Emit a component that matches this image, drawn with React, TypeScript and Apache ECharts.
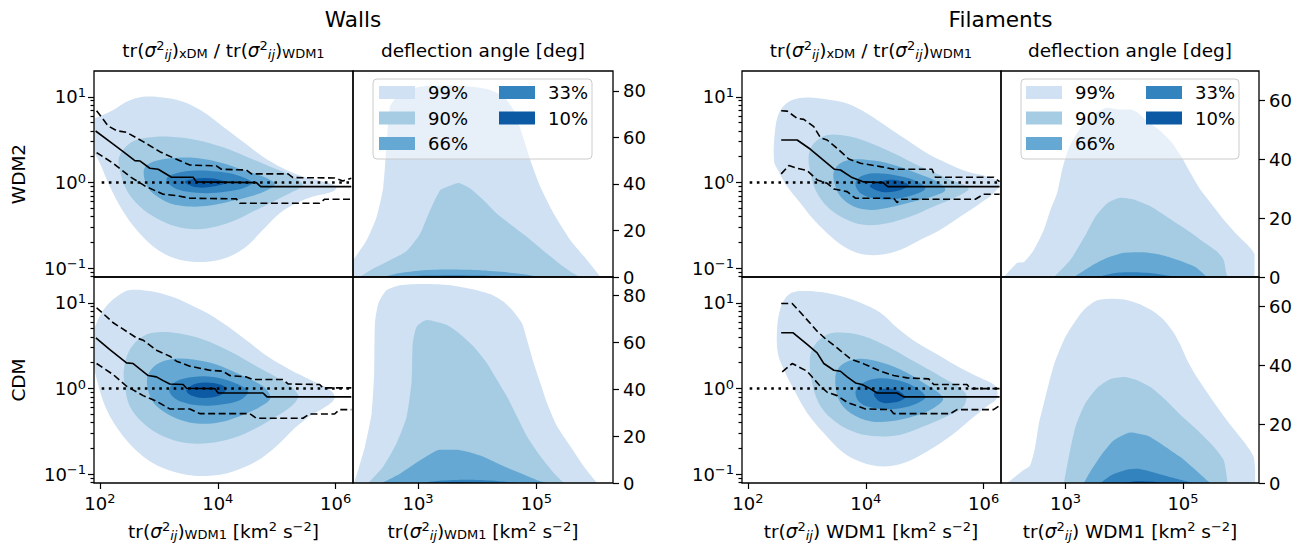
import React, { useEffect, useRef } from 'react';
import * as echarts from 'echarts';

type Pt = [number, number];

const FONT = 'DejaVu Sans';

// contour levels (enclosed fraction) and their colours
const levelNames = ['99%', '90%', '66%', '33%', '10%'];
const levelColors = ['#cfe1f2', '#a5cce3', '#64a8d3', '#3383bf', '#0c5aa3'];

// axis ranges (log10 units for tr(sigma^2) and for the ratio)
const xLogRange: Pt = [1.9, 6.295];
const ratioLogRange: Pt = [-1.1, 1.3];
const angleMaxWalls: Pt = [88.5, 88];
const angleMaxFil: Pt = [70, 70];

const ratioXTicks = [2, 4, 6];
const angleXTicks = [3, 5];
const ratioYTicks = [-1, 0, 1];
const angleTicksWalls = [0, 20, 40, 60, 80];
const angleTicksFil = [0, 20, 40, 60];

// ---------- Walls, WDM2 / WDM1 ratio (log10 x, log10 y) ----------
const wW2c99: Pt[] = [[1.85,0.76],[1.904,0.748],[2.226,0.845],[2.452,0.942],[2.734,1.0],[3.073,0.992],[3.412,0.942],[3.751,0.826],[4.09,0.651],[4.429,0.477],[4.768,0.302],[5.107,0.167],[5.446,0.07],[5.785,0.012],[6.011,-0.047],[5.955,-0.105],[5.616,-0.163],[5.333,-0.24],[5.051,-0.357],[4.768,-0.55],[4.486,-0.744],[4.203,-0.86],[3.864,-0.919],[3.525,-0.919],[3.186,-0.86],[2.904,-0.744],[2.621,-0.55],[2.395,-0.337],[2.169,-0.047],[2.0,0.225],[1.904,0.341],[1.85,0.36]];
const wW2c90: Pt[] = [[2.328,0.302],[2.508,0.457],[2.734,0.516],[3.186,0.535],[3.638,0.496],[4.09,0.411],[4.486,0.302],[4.881,0.186],[5.22,0.089],[5.446,-0.027],[5.277,-0.105],[4.994,-0.202],[4.655,-0.318],[4.316,-0.434],[3.977,-0.512],[3.638,-0.543],[3.299,-0.512],[2.96,-0.415],[2.678,-0.279],[2.452,-0.085],[2.339,0.147]];
const wW2c66: Pt[] = [[2.746,0.147],[2.847,0.225],[3.073,0.271],[3.412,0.291],[3.751,0.275],[4.09,0.225],[4.429,0.147],[4.768,0.07],[4.966,-0.016],[4.825,-0.093],[4.542,-0.163],[4.203,-0.221],[3.864,-0.267],[3.525,-0.279],[3.186,-0.24],[2.932,-0.143],[2.791,-0.027]];
const wW2c33: Pt[] = [[3.13,0.043],[3.299,0.109],[3.638,0.14],[3.977,0.128],[4.316,0.089],[4.588,0],[4.429,-0.066],[4.147,-0.105],[3.808,-0.124],[3.469,-0.105],[3.243,-0.054]];
const wW2c10: Pt[] = [[3.441,0.008],[3.638,0.047],[3.921,0.047],[4.147,0],[3.921,-0.047],[3.638,-0.054]];
const wW2median: Pt[] = [[1.927,0.601],[2.169,0.477],[2.395,0.36],[2.593,0.256],[2.678,0.252],[2.847,0.167],[2.989,0.155],[3.102,0.109],[3.215,0.062],[3.582,0.062],[3.638,0.008],[4.655,0],[4.729,-0.047],[6.266,-0.047]];
const wW2upper: Pt[] = [[1.944,0.837],[2.141,0.659],[2.282,0.605],[2.452,0.585],[2.734,0.477],[3.017,0.36],[3.299,0.271],[3.525,0.205],[3.977,0.194],[4.062,0.155],[4.486,0.147],[4.571,0.101],[5.192,0.101],[5.277,0.058],[5.983,0.054],[6.124,0.019],[6.266,0.05]];
const wW2lower: Pt[] = [[1.944,0.349],[2.226,0.225],[2.508,0.07],[2.763,-0.039],[3.073,-0.136],[3.299,-0.151],[3.525,-0.182],[4.316,-0.19],[4.373,-0.24],[5.729,-0.24],[5.814,-0.194],[6.266,-0.194]];

// ---------- Walls, CDM / WDM1 ratio ----------
const wCc99: Pt[] = [[1.88,0.62],[2.0,0.85],[2.15,0.99],[2.3,1.08],[2.508,1.148],[2.847,1.136],[3.186,1.078],[3.525,0.981],[3.864,0.864],[4.203,0.708],[4.542,0.533],[4.881,0.358],[5.22,0.222],[5.559,0.105],[5.898,-0.012],[5.983,-0.109],[5.842,-0.206],[5.559,-0.323],[5.277,-0.479],[4.994,-0.673],[4.655,-0.848],[4.26,-0.965],[3.864,-1.016],[3.469,-1.004],[3.073,-0.926],[2.734,-0.79],[2.395,-0.556],[2.113,-0.245],[1.95,0.1],[1.88,0.35]];
const wCc90: Pt[] = [[2.407,0.222],[2.508,0.455],[2.734,0.611],[3.017,0.658],[3.356,0.642],[3.751,0.572],[4.203,0.436],[4.655,0.261],[5.107,0.086],[5.362,-0.07],[5.277,-0.187],[4.994,-0.323],[4.655,-0.459],[4.26,-0.576],[3.864,-0.634],[3.469,-0.634],[3.073,-0.556],[2.734,-0.401],[2.508,-0.206],[2.424,0.027]];
const wCc66: Pt[] = [[2.802,0.125],[2.96,0.28],[3.243,0.346],[3.582,0.339],[3.977,0.28],[4.373,0.163],[4.768,0.027],[4.893,-0.109],[4.712,-0.214],[4.373,-0.323],[4.034,-0.393],[3.695,-0.409],[3.356,-0.362],[3.073,-0.265],[2.876,-0.128]];
const wCc33: Pt[] = [[3.175,-0.012],[3.299,0.086],[3.582,0.136],[3.921,0.136],[4.26,0.074],[4.514,-0.031],[4.373,-0.136],[4.034,-0.187],[3.695,-0.198],[3.412,-0.16],[3.243,-0.097]];
const wCc10: Pt[] = [[3.469,-0.019],[3.638,0.058],[3.921,0.066],[4.147,0.008],[4.034,-0.082],[3.751,-0.109],[3.554,-0.082]];
const wCmedian: Pt[] = [[1.932,0.591],[2.169,0.455],[2.452,0.3],[2.565,0.292],[2.819,0.152],[2.96,0.136],[3.073,0.093],[3.186,0.054],[3.412,0.047],[3.469,0.004],[3.949,0],[4.006,-0.051],[4.768,-0.051],[4.836,-0.097],[6.266,-0.097]];
const wCupper: Pt[] = [[1.944,0.942],[2.226,0.767],[2.621,0.591],[2.734,0.564],[2.96,0.447],[3.186,0.377],[3.299,0.319],[3.525,0.261],[3.864,0.214],[4.09,0.202],[4.203,0.152],[4.486,0.136],[4.599,0.105],[5.107,0.105],[5.192,0.054],[5.729,0.047],[5.785,0.008],[6.266,0.008]];
const wClower: Pt[] = [[1.944,0.292],[2.226,0.163],[2.452,0.027],[2.734,-0.082],[2.96,-0.148],[3.186,-0.237],[3.525,-0.237],[3.695,-0.292],[4.542,-0.292],[4.655,-0.346],[5.446,-0.346],[5.559,-0.296],[5.983,-0.296],[6.068,-0.245],[6.266,-0.245]];

// ---------- Filaments, WDM2 / WDM1 ratio ----------
const fW2c99: Pt[] = [[2.441,0.264],[2.469,0.651],[2.554,0.845],[2.723,0.953],[3.006,0.992],[3.345,0.969],[3.684,0.922],[4.023,0.806],[4.362,0.651],[4.701,0.496],[5.04,0.341],[5.379,0.225],[5.718,0.128],[6.056,0.07],[6.271,-0.008],[6.169,-0.124],[5.944,-0.24],[5.605,-0.395],[5.266,-0.55],[4.927,-0.667],[4.588,-0.783],[4.249,-0.841],[3.91,-0.829],[3.627,-0.744],[3.345,-0.589],[3.119,-0.434],[2.893,-0.24],[2.667,-0.047],[2.508,0.147]];
const fW2c90: Pt[] = [[3.034,0.322],[3.119,0.457],[3.345,0.554],[3.684,0.543],[4.023,0.477],[4.475,0.341],[4.927,0.186],[5.379,0.05],[5.746,-0.066],[5.548,-0.163],[5.153,-0.279],[4.757,-0.395],[4.362,-0.473],[3.966,-0.492],[3.627,-0.415],[3.345,-0.279],[3.147,-0.085],[3.051,0.147]];
const fW2c66: Pt[] = [[3.458,0.128],[3.571,0.225],[3.797,0.271],[4.136,0.256],[4.475,0.205],[4.87,0.109],[5.209,0.012],[5.35,-0.085],[5.153,-0.155],[4.814,-0.221],[4.418,-0.287],[4.079,-0.318],[3.797,-0.279],[3.571,-0.163],[3.469,-0.008]];
const fW2c33: Pt[] = [[3.825,-0.016],[3.91,0.07],[4.136,0.109],[4.475,0.089],[4.814,0.031],[5.011,-0.066],[4.814,-0.143],[4.475,-0.194],[4.136,-0.182],[3.91,-0.124]];
const fW2c10: Pt[] = [[4.068,-0.039],[4.249,0.016],[4.503,0.031],[4.729,-0.027],[4.559,-0.093],[4.277,-0.109]];
const fW2median: Pt[] = [[2.565,0.496],[2.836,0.496],[3.062,0.388],[3.469,0.155],[3.571,0.147],[3.768,0.058],[3.966,0.008],[4.294,0],[4.373,-0.047],[6.271,-0.047]];
const fW2upper: Pt[] = [[2.565,0.837],[2.667,0.833],[2.836,0.748],[2.949,0.736],[3.119,0.651],[3.232,0.523],[3.345,0.496],[3.514,0.399],[3.712,0.275],[3.91,0.225],[4.249,0.186],[4.475,0.155],[5.124,0.155],[5.181,0.062],[6.169,0.062],[6.271,0.012]];
const fW2lower: Pt[] = [[2.565,0.101],[2.695,0.198],[2.836,0.167],[3.006,0.14],[3.175,0.031],[3.345,-0.008],[3.458,-0.074],[3.684,-0.105],[3.825,-0.182],[4.475,-0.182],[4.531,-0.233],[4.599,-0.194],[5.859,-0.194],[6.0,-0.136],[6.271,-0.136]];

// ---------- Filaments, CDM / WDM1 ratio ----------
const fCc99: Pt[] = [[2.508,0.416],[2.497,0.708],[2.565,0.961],[2.695,1.097],[2.893,1.136],[3.232,1.125],[3.571,1.078],[3.91,1.0],[4.249,0.883],[4.531,0.708],[4.87,0.533],[5.266,0.377],[5.605,0.241],[5.944,0.125],[6.198,0.027],[6.226,-0.109],[6.056,-0.206],[5.774,-0.362],[5.435,-0.556],[5.04,-0.732],[4.644,-0.868],[4.305,-0.907],[3.966,-0.868],[3.627,-0.751],[3.288,-0.518],[3.006,-0.284],[2.78,-0.012],[2.61,0.222]];
const fCc90: Pt[] = [[3.051,0.339],[3.119,0.494],[3.345,0.63],[3.627,0.65],[3.966,0.611],[4.362,0.494],[4.814,0.319],[5.266,0.144],[5.689,-0.051],[5.661,-0.206],[5.379,-0.323],[4.983,-0.44],[4.588,-0.537],[4.192,-0.556],[3.853,-0.518],[3.514,-0.401],[3.232,-0.206],[3.09,0.066]];
const fCc66: Pt[] = [[3.486,0.144],[3.599,0.28],[3.853,0.346],[4.192,0.319],[4.588,0.222],[4.983,0.066],[5.311,-0.109],[5.153,-0.226],[4.814,-0.323],[4.418,-0.381],[4.079,-0.381],[3.74,-0.284],[3.542,-0.128]];
const fCc33: Pt[] = [[3.825,-0.051],[3.91,0.047],[4.136,0.113],[4.475,0.105],[4.814,0.027],[5.011,-0.097],[4.814,-0.187],[4.475,-0.237],[4.136,-0.226],[3.91,-0.167]];
const fCc10: Pt[] = [[4.136,-0.058],[4.305,-0.004],[4.531,-0.019],[4.672,-0.101],[4.503,-0.16],[4.249,-0.156]];
const fCmedian: Pt[] = [[2.565,0.65],[2.768,0.65],[3.006,0.514],[3.175,0.416],[3.288,0.292],[3.458,0.214],[3.571,0.202],[3.684,0.136],[3.825,0.066],[3.938,0.047],[4.051,0.008],[4.192,-0.051],[4.531,-0.051],[4.644,-0.097],[6.271,-0.097]];
const fCupper: Pt[] = [[2.565,0.992],[2.751,0.992],[2.949,0.844],[3.175,0.669],[3.316,0.58],[3.514,0.475],[3.74,0.346],[3.966,0.288],[4.249,0.202],[4.475,0.152],[4.701,0.125],[5.068,0.113],[5.153,0.047],[5.718,0.047],[5.774,0],[6.271,0]];
const fClower: Pt[] = [[2.582,0.195],[2.751,0.292],[3.006,0.202],[3.203,0.047],[3.345,-0.043],[3.514,-0.082],[3.684,-0.16],[3.994,-0.237],[4.418,-0.245],[4.475,-0.292],[5.435,-0.292],[5.548,-0.245],[6.169,-0.245],[6.271,-0.198]];

// reference line at ratio = 1
const unityLine: Pt[] = [[2.03, 0], [6.29, 0]];

// ---------- deflection angle [deg] vs log10 tr(sigma^2) ----------
const wWAa99: Pt[] = [[1.85,5],[1.904,7.2],[2.13,15.8],[2.299,25.8],[2.412,38.7],[2.469,57.3],[2.525,73.1],[2.638,77.4],[2.808,80.3],[3.09,82.0],[3.542,82.3],[3.938,81.7],[4.22,80.3],[4.446,77.4],[4.616,71.7],[4.757,61.6],[4.898,50.2],[5.068,38.7],[5.294,27.2],[5.576,15.8],[5.859,7.2],[6.085,0]];
const wWAa90: Pt[] = [[2.017,0],[2.243,3.6],[2.525,7.2],[2.808,11.2],[3.034,18.6],[3.203,28.7],[3.373,37.3],[3.486,38.7],[3.684,40.4],[3.881,38.0],[4.107,33.0],[4.333,27.2],[4.559,22.7],[4.842,17.2],[5.124,11.2],[5.407,5.4],[5.633,1.4],[5.746,0]];
const wWAa66: Pt[] = [[2.412,0],[2.695,1.7],[3.09,2.9],[3.542,3.2],[4.051,2.9],[4.503,2.0],[4.842,1.0],[5.068,0]];
const wWAa33: Pt[] = [[2.75,0],[3.1,0.6],[3.6,0.8],[4.1,0.6],[4.5,0]];
const wWAa10: Pt[] = [[3.2,0],[3.6,0.25],[4.0,0]];

const wCAa99: Pt[] = [[1.915,0],[1.989,5.7],[2.102,15.6],[2.215,29.8],[2.26,48.3],[2.271,68.2],[2.328,76.7],[2.469,82.4],[2.695,84.5],[3.09,85.0],[3.542,84.5],[3.938,82.7],[4.22,80.7],[4.446,77.4],[4.616,73.2],[4.757,68.2],[4.842,61.1],[4.955,51.2],[5.068,42.6],[5.181,34.1],[5.35,24.2],[5.576,15.6],[5.802,7.1],[6.028,0]];
const wCAa90: Pt[] = [[2.158,0],[2.412,7.1],[2.638,17.1],[2.808,28.4],[2.893,44.0],[2.91,59.7],[2.977,66.8],[3.147,69.6],[3.486,67.5],[3.655,64.7],[3.938,58.3],[4.164,51.2],[4.333,44.1],[4.503,36.9],[4.672,28.4],[4.842,19.9],[5.068,11.4],[5.294,4.3],[5.463,0]];
const wCAa66: Pt[] = [[2.384,0],[2.695,4.0],[3.034,9.7],[3.373,14.2],[3.655,14.2],[4.051,11.7],[4.39,7.8],[4.785,3.6],[5.068,0.7],[5.181,0]];
const wCAa33: Pt[] = [[3.034,0],[3.373,1.0],[3.825,1.4],[4.277,1.0],[4.672,0]];
const wCAa10: Pt[] = [[3.35,0],[3.7,0.4],[4.1,0]];

const fWAa99: Pt[] = [[1.952,0],[2.178,4.8],[2.292,5.1],[2.462,9.3],[2.632,16.1],[2.745,22.9],[2.858,28.6],[2.943,36.5],[3.057,43.9],[3.255,50.7],[3.482,55.2],[3.708,57.5],[3.935,56.9],[4.105,56.9],[4.218,56.0],[4.388,53.0],[4.615,49.6],[4.813,45.6],[4.983,40.5],[5.125,35.4],[5.295,29.7],[5.493,24.6],[5.691,19.5],[5.918,14.4],[6.144,9.9],[6.218,7.6],[6.218,0]];
const fWAa90: Pt[] = [[2.802,0],[3.085,5.9],[3.312,13.3],[3.51,20.6],[3.708,25.0],[3.935,26.9],[4.161,26.3],[4.445,24.0],[4.728,20.4],[5.011,16.7],[5.295,12.7],[5.578,8.7],[5.691,5.9],[5.737,1.4],[5.759,0]];
const fWAa66: Pt[] = [[3.142,0],[3.425,3.6],[3.708,6.5],[3.992,8.2],[4.303,8.4],[4.615,7.6],[4.926,5.7],[5.21,3.4],[5.408,0]];
const fWAa33: Pt[] = [[3.538,0],[3.85,1.4],[4.161,1.6],[4.501,1.2],[4.898,0]];
const fWAa10: Pt[] = [[3.9,0],[4.2,0.35],[4.5,0]];

const fCAa99: Pt[] = [[2.008,0],[2.15,2.3],[2.292,4.5],[2.394,5.9],[2.473,11.3],[2.547,20.4],[2.632,27.2],[2.717,34.0],[2.802,40.2],[2.887,44.7],[3.0,49.8],[3.142,54.3],[3.312,58.9],[3.527,62.0],[3.765,62.6],[4.02,62.3],[4.246,60.9],[4.473,58.6],[4.671,55.5],[4.83,51.5],[4.955,47.0],[5.068,41.9],[5.21,36.8],[5.38,31.7],[5.578,26.0],[5.805,19.8],[6.031,14.2],[6.201,9.1],[6.229,4.5],[6.229,0]];
const fCAa90: Pt[] = [[2.972,0],[3.057,9.1],[3.17,19.2],[3.34,27.2],[3.538,32.3],[3.765,35.3],[3.992,36.0],[4.218,34.9],[4.445,32.6],[4.7,28.3],[4.955,23.2],[5.238,18.1],[5.493,13.0],[5.691,7.9],[5.737,3.4],[5.759,0]];
const fCAa66: Pt[] = [[3.312,0],[3.425,4.0],[3.595,9.1],[3.822,14.5],[4.105,17.2],[4.388,16.1],[4.671,12.7],[4.955,8.8],[5.21,4.5],[5.408,0.9],[5.465,0]];
const fCAa33: Pt[] = [[3.595,0],[3.793,2.8],[4.048,4.5],[4.218,4.8],[4.501,3.6],[4.841,1.7],[5.181,0]];
const fCAa10: Pt[] = [[3.992,0],[4.218,0.6],[4.445,0.5],[4.671,0]];

// ---------- layout ----------
const COLS = [
  { left: 94, width: 259 },
  { left: 353, width: 260 },
  { left: 742, width: 259 },
  { left: 1001, width: 258 },
];
const ROWS = [
  { top: 71, height: 206 },
  { top: 277, height: 206 },
];

const supRich = {
  sup: { fontSize: 13, padding: [0, 0, 9, 0], fontFamily: FONT, color: '#000' },
};

function minorLogTicks(range: Pt): number[] {
  const out: number[] = [];
  for (let n = -3; n <= 2; n++) {
    for (let k = 2; k <= 9; k++) {
      const v = n + Math.log10(k);
      if (v > range[0] + 0.001 && v < range[1] - 0.001) out.push(v);
    }
  }
  return out;
}

function supLabel(v: number): string {
  const r = Math.round(v);
  return '10{sup|' + (r < 0 ? '\u2212' + -r : String(r)) + '}';
}

function buildOption() {
  const panels = [
    { kind: 'ratio', row: 0, col: 0, polys: [wW2c99, wW2c90, wW2c66, wW2c33, wW2c10], median: wW2median, upper: wW2upper, lower: wW2lower },
    { kind: 'angle', row: 0, col: 1, areas: [wWAa99, wWAa90, wWAa66, wWAa33, wWAa10], yMax: angleMaxWalls[0], ticks: angleTicksWalls },
    { kind: 'ratio', row: 0, col: 2, polys: [fW2c99, fW2c90, fW2c66, fW2c33, fW2c10], median: fW2median, upper: fW2upper, lower: fW2lower },
    { kind: 'angle', row: 0, col: 3, areas: [fWAa99, fWAa90, fWAa66, fWAa33, fWAa10], yMax: angleMaxFil[0], ticks: angleTicksFil },
    { kind: 'ratio', row: 1, col: 0, polys: [wCc99, wCc90, wCc66, wCc33, wCc10], median: wCmedian, upper: wCupper, lower: wClower },
    { kind: 'angle', row: 1, col: 1, areas: [wCAa99, wCAa90, wCAa66, wCAa33, wCAa10], yMax: angleMaxWalls[1], ticks: angleTicksWalls },
    { kind: 'ratio', row: 1, col: 2, polys: [fCc99, fCc90, fCc66, fCc33, fCc10], median: fCmedian, upper: fCupper, lower: fClower },
    { kind: 'angle', row: 1, col: 3, areas: [fCAa99, fCAa90, fCAa66, fCAa33, fCAa10], yMax: angleMaxFil[1], ticks: angleTicksFil },
  ] as any[];

  const grid: any[] = [];
  const xAxis: any[] = [];
  const yAxis: any[] = [];
  const extraY: any[] = [];
  const series: any[] = [];
  const minor = minorLogTicks(ratioLogRange);

  const tickLine = { color: '#000', width: 1.2 };
  const labelBase = { color: '#000', fontSize: 18, fontFamily: FONT };
  const noLine = { show: false, onZero: false };

  panels.forEach((p, g) => {
    const c = COLS[p.col];
    const r = ROWS[p.row];
    grid.push({
      left: c.left, top: r.top, width: c.width, height: r.height,
      show: true, borderColor: '#000', borderWidth: 1.3, backgroundColor: 'transparent', z: 10,
    });
    const bottom = p.row === 1;
    const xt = p.kind === 'ratio' ? ratioXTicks : angleXTicks;
    xAxis.push({
      type: 'value', gridIndex: g, min: xLogRange[0], max: xLogRange[1], position: 'bottom',
      axisLine: noLine, splitLine: { show: false },
      axisTick: { show: bottom, customValues: xt, length: 6, lineStyle: tickLine },
      axisLabel: { show: bottom, customValues: xt, formatter: supLabel, margin: 9, ...labelBase, rich: supRich },
      z: 10,
    });
    if (p.kind === 'ratio') {
      yAxis.push({
        type: 'value', gridIndex: g, min: ratioLogRange[0], max: ratioLogRange[1], position: 'left',
        axisLine: noLine, splitLine: { show: false },
        axisTick: { show: true, customValues: ratioYTicks, length: 6, lineStyle: tickLine },
        axisLabel: { show: true, customValues: ratioYTicks, formatter: supLabel, margin: 8, ...labelBase, rich: supRich },
        z: 10,
      });
      extraY.push({
        type: 'value', gridIndex: g, min: ratioLogRange[0], max: ratioLogRange[1], position: 'right',
        offset: -c.width,
        axisLine: noLine, splitLine: { show: false },
        axisTick: { show: true, inside: true, customValues: minor, length: 3.5, lineStyle: tickLine },
        axisLabel: { show: false },
        z: 10,
      });
      p.polys.forEach((poly: Pt[], li: number) => {
        series.push({
          type: 'custom', name: levelNames[li], coordinateSystem: 'cartesian2d',
          xAxisIndex: g, yAxisIndex: g, clip: true, silent: true,
          data: [poly[0]],
          renderItem: (_params: any, api: any) => ({
            type: 'polygon',
            shape: { points: poly.map((pt) => api.coord(pt)), smooth: 0.35 },
            style: { fill: levelColors[li] },
          }),
          z: 2,
        });
      });
      const lineSeries = (data: Pt[], style: any) => ({
        type: 'line', xAxisIndex: g, yAxisIndex: g, data, symbol: 'none', silent: true,
        lineStyle: { color: '#000', ...style }, z: 3, clip: true,
      });
      series.push(lineSeries(unityLine, { width: 2.5, type: [2.6, 4.6], cap: 'butt' }));
      series.push(lineSeries(p.median, { width: 1.6, type: 'solid' }));
      series.push(lineSeries(p.upper, { width: 1.6, type: [7, 3.5] }));
      series.push(lineSeries(p.lower, { width: 1.6, type: [7, 3.5] }));
    } else {
      yAxis.push({
        type: 'value', gridIndex: g, min: 0, max: p.yMax, position: 'right',
        axisLine: noLine, splitLine: { show: false },
        axisTick: { show: true, customValues: p.ticks, length: 6, lineStyle: tickLine },
        axisLabel: { show: true, customValues: p.ticks, margin: 10, ...labelBase },
        z: 10,
      });
      p.areas.forEach((area: Pt[], li: number) => {
        series.push({
          type: 'line', name: levelNames[li], xAxisIndex: g, yAxisIndex: g, data: area,
          smooth: 0.2, symbol: 'none', silent: true,
          lineStyle: { width: 0, color: levelColors[li] },
          itemStyle: { color: levelColors[li] },
          areaStyle: { color: levelColors[li], opacity: 1 },
          z: 2,
        });
      });
    }
  });

  // minor-tick axes are appended after the 8 main y axes
  const allY = [...yAxis, ...extraY];

  const legendData = levelNames.map((n, i) => ({ name: n, icon: 'rect', itemStyle: { color: levelColors[i], borderWidth: 0 } }));
  const legendBase = {
    orient: 'vertical', padding: 0, itemGap: 7.5, itemWidth: 36, itemHeight: 13,
    selectedMode: false, z: 12,
    textStyle: { fontSize: 18, fontFamily: FONT, color: '#000', padding: [0, 0, 0, 8] },
  };
  const legend = [
    { ...legendBase, left: 379, top: 83.5, data: legendData.slice(0, 3) },
    { ...legendBase, left: 499, top: 83.5, data: legendData.slice(3) },
    { ...legendBase, left: 1026, top: 83.5, data: legendData.slice(0, 3) },
    { ...legendBase, left: 1146, top: 83.5, data: legendData.slice(3) },
  ];

  const titleRich = {
    sig: { fontStyle: 'italic', fontSize: 18.5, fontFamily: FONT },
    ij: { fontSize: 13, fontStyle: 'italic', padding: [8, 0, 0, 0], fontFamily: FONT },
    sub: { fontSize: 13, padding: [7, 0, 0, 0], fontFamily: FONT },
    sup: { fontSize: 13, padding: [0, 0, 10, 0], fontFamily: FONT },
  };
  const sig = 'tr({sig|\u03c3}{sup|2}{ij|ij})';
  const txt = (x: number, y: number, text: string, size: number, extra: any = {}) => ({
    type: 'text', x, y, z: 20, silent: true, ...extra,
    style: { text, fill: '#000', fontSize: size, fontFamily: FONT, align: 'center', verticalAlign: 'middle', rich: titleRich },
  });

  const graphic = [
    { type: 'rect', shape: { x: 373, y: 79, width: 219, height: 80, r: 4 }, style: { fill: 'rgba(255,255,255,0.5)', stroke: '#cccccc', lineWidth: 1 }, z: 11, silent: true },
    { type: 'rect', shape: { x: 1021, y: 79, width: 218, height: 80, r: 4 }, style: { fill: 'rgba(255,255,255,0.5)', stroke: '#cccccc', lineWidth: 1 }, z: 11, silent: true },
    txt(353, 19, 'Walls', 21.6),
    txt(1000.5, 19, 'Filaments', 21.6),
    txt(223.5, 50, sig + '{sub|xDM} / ' + sig + '{sub|WDM1}', 18.5),
    txt(483, 50, 'deflection angle [deg]', 18.5),
    txt(871, 50, sig + '{sub|xDM} / ' + sig + '{sub|WDM1}', 18.5),
    txt(1130, 50, 'deflection angle [deg]', 18.5),
    txt(223.5, 531, sig + '{sub|WDM1} [km{sup|2} s{sup|\u22122}]', 18.5),
    txt(483, 531, sig + '{sub|WDM1} [km{sup|2} s{sup|\u22122}]', 18.5),
    txt(871, 531, sig + ' WDM1 [km{sup|2} s{sup|\u22122}]', 18.5),
    txt(1130, 531, sig + ' WDM1 [km{sup|2} s{sup|\u22122}]', 18.5),
    txt(18, 174, 'WDM2', 18.5, { rotation: Math.PI / 2 }),
    txt(18, 380, 'CDM', 18.5, { rotation: Math.PI / 2 }),
  ];

  return {
    animation: false,
    backgroundColor: '#ffffff',
    textStyle: { fontFamily: FONT },
    grid, xAxis, yAxis: allY, series, legend, graphic,
  };
}

export default function App() {
  const ref = useRef<HTMLDivElement>(null);
  useEffect(() => {
    if (!ref.current) return;
    const chart = echarts.init(ref.current, undefined, { renderer: 'svg' });
    chart.setOption(buildOption() as any);
    return () => chart.dispose();
  }, []);
  return (
    <div
      ref={ref}
      style={{ position: 'fixed', left: 0, top: 0, width: 1307, height: 553, background: '#fff' }}
    />
  );
}
